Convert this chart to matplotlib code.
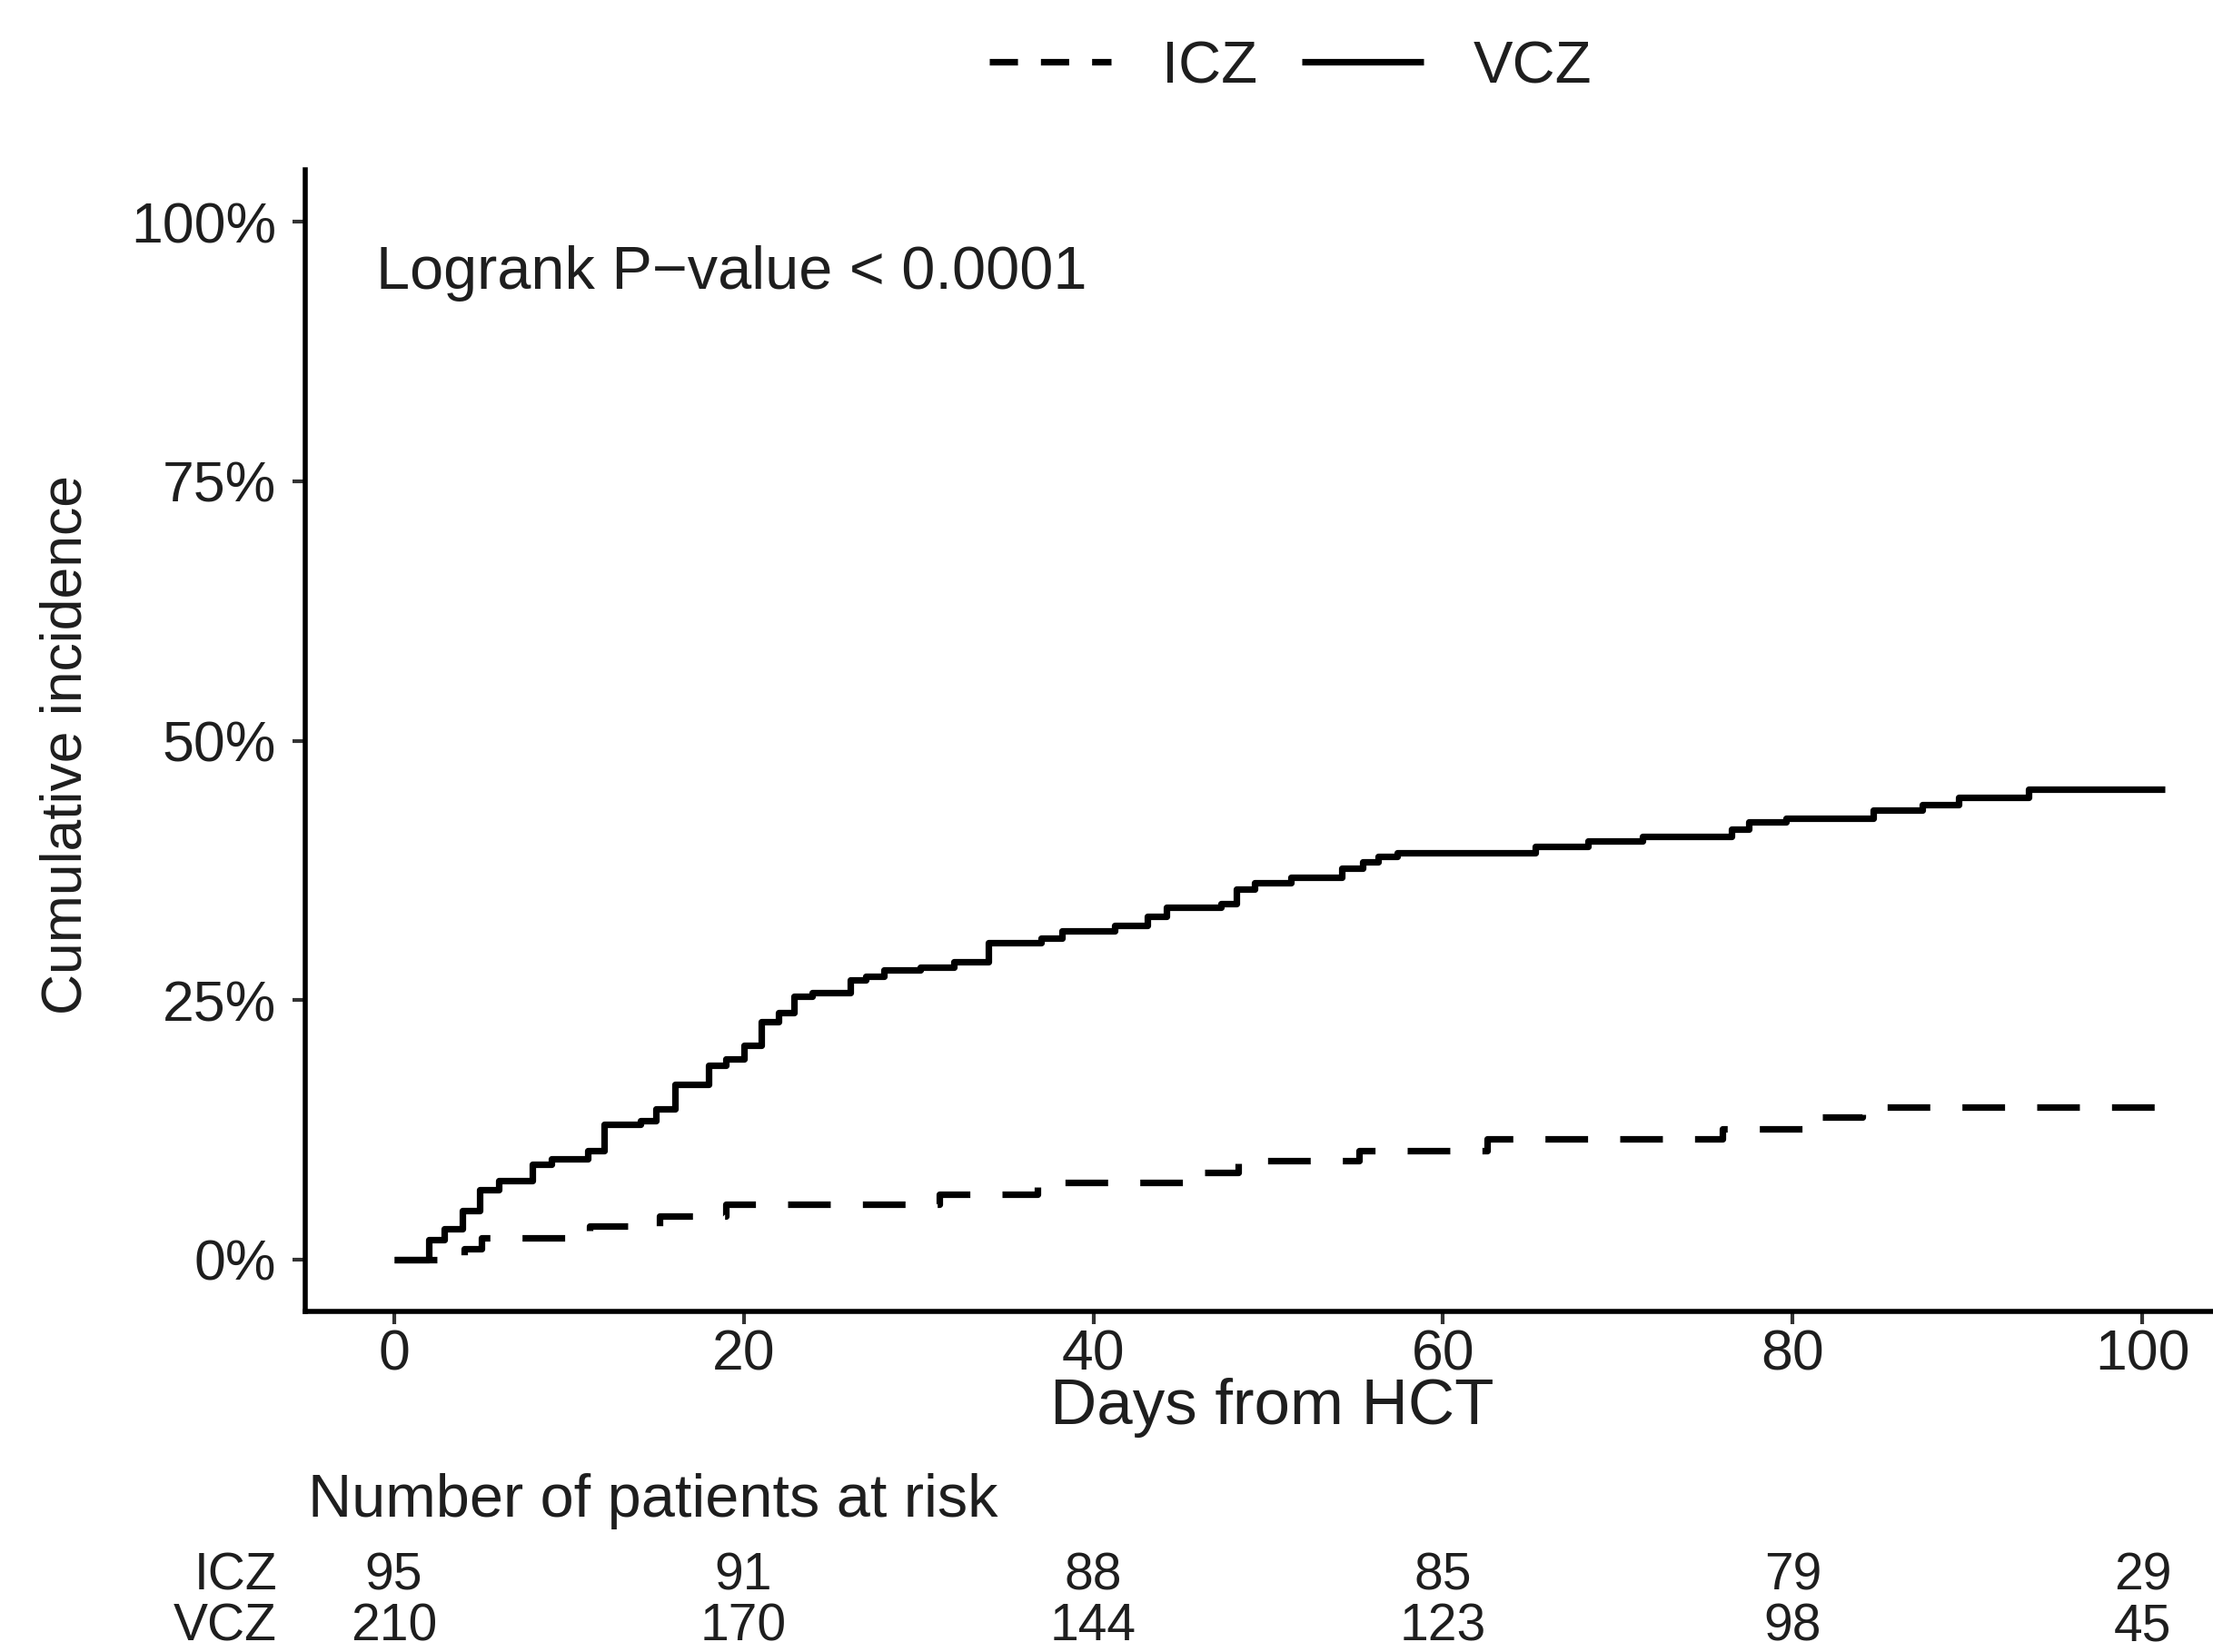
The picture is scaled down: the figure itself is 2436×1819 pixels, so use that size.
import matplotlib
matplotlib.use("Agg")
import matplotlib.pyplot as plt
from matplotlib.lines import Line2D
from matplotlib.transforms import blended_transform_factory

# ---------------- data ----------------
icz_days = [0, 4.0, 5.0, 11.2, 15.2, 19.0, 31.2, 36.8, 45.6, 48.3, 55.2,
            62.5, 76.0, 81.4, 84.0, 101.3]
icz_cuminc = [0, 1.05, 2.1, 3.2, 4.2, 5.3, 6.3, 7.4, 8.4, 9.5, 10.5,
              11.6, 12.6, 13.7, 14.7, 14.7]

vcz_days = [0, 2.0, 2.9, 3.9, 4.9, 6.0, 7.9, 9.0, 11.1, 12.0, 14.1, 15.0,
            16.1, 18.0, 19.0, 20.0, 21.0, 22.0, 22.9, 23.9, 26.1, 27.0,
            28.0, 30.1, 32.0, 34.0, 37.0, 38.2, 41.2, 43.1, 44.2, 47.3,
            48.2, 49.2, 51.3, 54.2, 55.4, 56.3, 57.4, 65.3, 68.3, 71.4,
            76.5, 77.5, 79.6, 84.6, 87.4, 89.5, 93.5, 101.3]
vcz_cuminc = [0, 1.9, 3.0, 4.7, 6.7, 7.6, 9.2, 9.7, 10.5, 13.0, 13.4, 14.5,
              16.9, 18.7, 19.3, 20.6, 22.9, 23.8, 25.4, 25.7, 26.9, 27.3,
              27.9, 28.2, 28.7, 30.5, 31.0, 31.7, 32.2, 33.1, 33.9, 34.3,
              35.7, 36.3, 36.8, 37.7, 38.3, 38.8, 39.2, 39.8, 40.3, 40.8,
              41.5, 42.2, 42.5, 43.3, 43.8, 44.5, 45.3, 45.3]

x_ticks = [0, 20, 40, 60, 80, 100]
y_ticks = [0, 25, 50, 75, 100]
y_tick_labels = ["0%", "25%", "50%", "75%", "100%"]

group_names = ["ICZ", "VCZ"]
risk_times = [0, 20, 40, 60, 80, 100]
risk_icz = [95, 91, 88, 85, 79, 29]
risk_vcz = [210, 170, 144, 123, 98, 45]

pvalue_text = "Logrank P\u2212value < 0.0001"
x_title = "Days from HCT"
y_title = "Cumulative incidence"
risk_title = "Number of patients at risk"

# ---------------- figure ----------------
W, H = 2436, 1819
DPI = 100
plt.rcParams["font.family"] = ["Liberation Sans", "DejaVu Sans"]
TXT = "#1e1e1e"

fig = plt.figure(figsize=(W / DPI, H / DPI), dpi=DPI)

def fx(px):
    return px / W

def fy(py):
    return 1 - py / H

ax_left, ax_right = 336, 336 + 2145
ax_top, ax_bottom = 187, 1444
ax = fig.add_axes([fx(ax_left), fy(ax_bottom), fx(ax_right - ax_left),
                   (ax_bottom - ax_top) / H])
ax.set_xlim(-5.07, 106.37)
ax.set_ylim(-5, 105)

lw = 5.2
ax.step(icz_days, icz_cuminc, where="post", color="black", lw=lw,
        linestyle=(0, (6.5, 4.9)), solid_capstyle="butt", dash_capstyle="butt")
ax.step(vcz_days, vcz_cuminc, where="post", color="black", lw=lw,
        solid_capstyle="butt")

for s in ["top", "right"]:
    ax.spines[s].set_visible(False)
for s in ["left", "bottom"]:
    ax.spines[s].set_linewidth(4.0)
    ax.spines[s].set_color("black")

ax.set_xticks(x_ticks)
ax.set_xticklabels([str(t) for t in x_ticks])
ax.set_yticks(y_ticks)
ax.set_yticklabels(y_tick_labels)
ax.tick_params(axis="both", length=10, width=3, color="#333333",
               labelsize=45, labelcolor=TXT)
ax.tick_params(axis="x", pad=3)
ax.tick_params(axis="y", pad=13)

# p-value annotation
ax.text(-1.0, 95.0, pvalue_text, fontsize=48, color=TXT,
        ha="left", va="center")

# axis titles
fig.text(fx(1400), fy(1568), x_title, fontsize=51, color=TXT,
         ha="center", va="baseline")
fig.text(fx(73), fy(820), y_title, fontsize=45, color=TXT,
         ha="center", va="center", rotation=90)

# legend
h_icz = Line2D([], [], color="black", lw=lw, linestyle=(0, (4.3, 3.5)),
               dash_capstyle="butt")
h_vcz = Line2D([], [], color="black", lw=lw, solid_capstyle="butt")
fig.legend([h_icz, h_vcz], group_names, loc="center",
           bbox_to_anchor=(fx(1421), fy(74)), ncol=2, frameon=False,
           fontsize=47, handlelength=2.05, handletextpad=0.85,
           columnspacing=0.75, labelcolor=TXT)

# risk table
fig.text(fx(339), fy(1670), risk_title, fontsize=48, color=TXT,
         ha="left", va="baseline")
trans = blended_transform_factory(ax.transData, fig.transFigure)
row_baselines = [1750, 1806]
for name, counts, yb in zip(group_names, [risk_icz, risk_vcz], row_baselines):
    fig.text(fx(305), fy(yb), name, fontsize=41, color=TXT,
             ha="right", va="baseline")
    for t, n in zip(risk_times, counts):
        fig.text(t, fy(yb), str(n), fontsize=41, color=TXT,
                 ha="center", va="baseline", transform=trans)

fig.savefig("out.png", dpi=DPI, facecolor="white")
